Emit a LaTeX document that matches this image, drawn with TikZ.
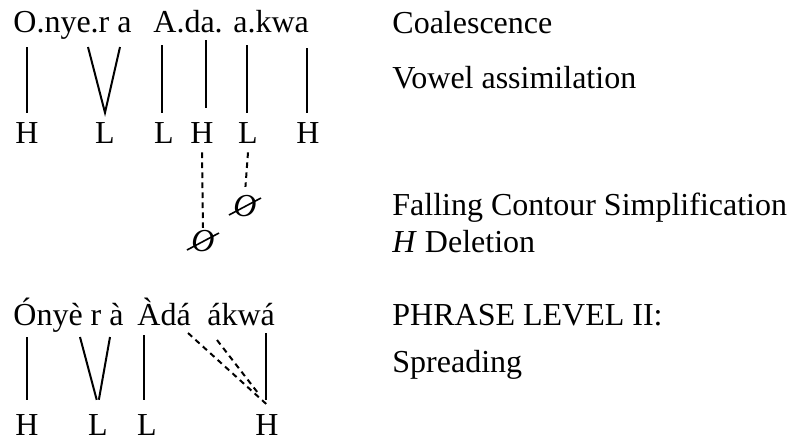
\documentclass[tikz,border=0pt]{standalone}
\usepackage{fontspec}
\setmainfont{Liberation Serif}
\usetikzlibrary{positioning}

\begin{document}
\begin{tikzpicture}[x=0.5pt,y=-0.5pt,
    font=\fontsize{16}{19}\selectfont,
    word/.style={anchor=base west,inner sep=0pt},
    tone/.style={anchor=base,inner sep=4.5pt},
    nul/.style={inner sep=1pt,font=\fontsize{16}{19}\selectfont\itshape},
    assoc/.style={line width=1pt},
    delink/.style={line width=1pt,dash pattern=on 2.8pt off 2.2pt}
  ]
    \useasboundingbox (0,0) rectangle (791,441);

    % word level: syllables and their tones
    \node[word] (w1) at (13,32) {O.nye.r a};
    \node[word] (w2) at (153,32) {A.da.};
    \node[word] (w3) at (233,32) {a.kwa};
    \node[tone] (h1) at (27,143) {H};
    \node[tone] (l1) at (105,143) {L};
    \node[tone] (l2) at (164,143) {L};
    \node[tone] (h2) at (202,143) {H};
    \node[tone] (l3) at (248,143) {L};
    \node[tone] (h3) at (308,143) {H};
    \coordinate (o1) at (27,47);
    \coordinate (e1) at (88,47);
    \coordinate (a1) at (120,47);
    \coordinate (a2) at (162,45);
    \coordinate (a3) at (206,40);
    \coordinate (a4) at (247,45);
    \coordinate (a5) at (307,48);
    \foreach \v/\t in {o1/h1,a2/l2,a4/l3,a5/h3}
      \draw[assoc] (\v) -- (\v |- \t.north);
    \draw[assoc,shorten >=2.5pt] (a3) -- (a3 |- h2.north);
    \draw[assoc] (e1) -- (l1.north) -- (a1);

    % delinked tones
    \node[nul] (z1) at (203,241) {O};
    \node[nul] (z2) at (245,206) {O};
    \foreach \z in {z1,z2}
      \draw[line width=0.8pt] ([shift={(-16,9)}]\z.center) -- ([shift={(16,-8)}]\z.center);
    \draw[delink] (h2.south) -- (z1.north);
    \draw[delink,shorten >=3pt] (l3.south) -- (z2.north);

    % phrase level
    \node[word] (w4) at (13,325) {Ónyè r à};
    \node[word] (w5) at (137,325) {Àdá};
    \node[word] (w6) at (207,325) {ákwá};
    \node[tone] (h4) at (27,435) {H};
    \node[tone] (l5) at (98,435) {L};
    \node[tone] (l6) at (147,435) {L};
    \node[tone] (h5) at (267,435) {H};
    \coordinate (o2) at (27,337);
    \coordinate (e2) at (80,337);
    \coordinate (a6) at (110,337);
    \coordinate (a7) at (144,335);
    \coordinate (a8) at (188,333);
    \coordinate (a9) at (217,340);
    \coordinate (a10) at (266,333);
    \begin{scope}[shorten >=2.5pt]
      \foreach \v/\t in {o2/h4,a7/l6,a10/h5}
        \draw[assoc] (\v) -- (\v |- \t.north);
      \draw[assoc] (e2) -- (l5.north);
      \draw[assoc] (a6) -- (l5.north);
    \end{scope}
    \draw[delink] (a8) -- (h5.north);
    \draw[delink,shorten >=6pt] (a9) -- (h5.north);

    % rule names
    \node[word] (r1) at (392,33) {Coalescence};
    \node[word] (r2) at (392,88) {Vowel assimilation};
    \node[word] (r3) at (392,215) {Falling Contour Simplification};
    \node[word] (r4) at (392,252) {\textit{H} Deletion};
    \node[word] (r5) at (392,325) {PHRASE LEVEL II:};
    \node[word] (r6) at (392,372) {Spreading};
  \end{tikzpicture}
\end{document}
